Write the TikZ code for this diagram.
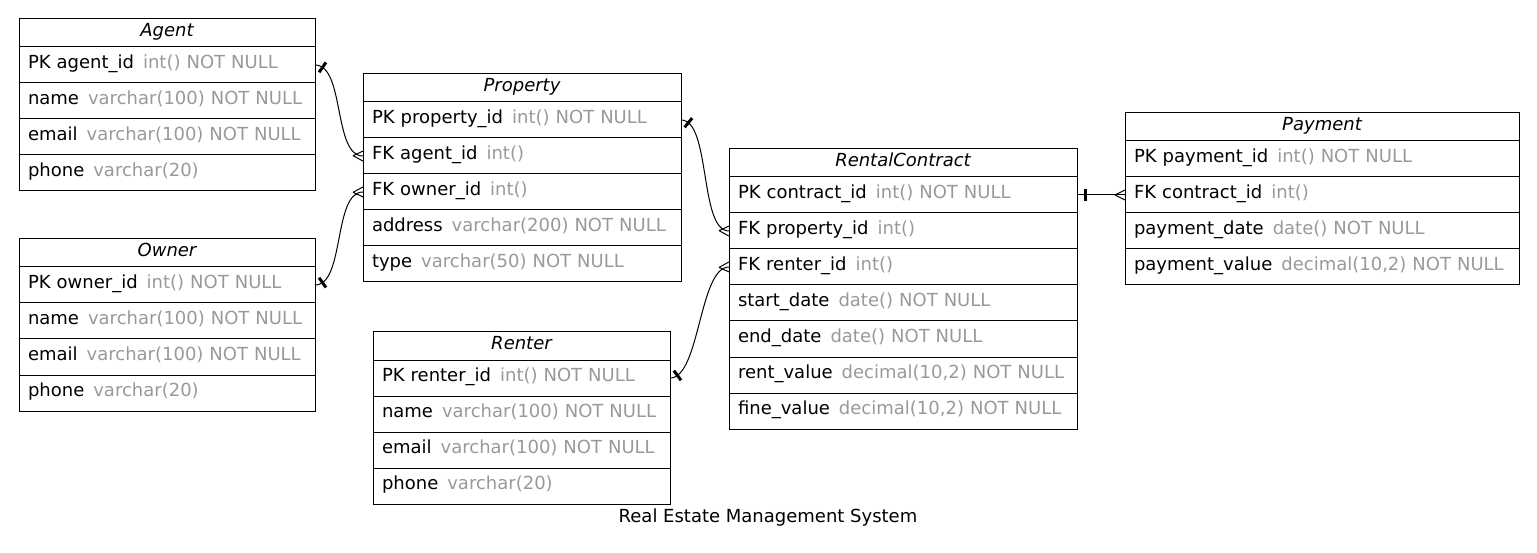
\documentclass[tikz,border=0pt]{standalone}
\usepackage{fontspec}
\setmainfont{DejaVu Sans}
\usetikzlibrary{positioning,decorations.markings}
\definecolor{attrgray}{HTML}{999999}
\newcommand{\coltype}[1]{\hspace{3pt}\textcolor{attrgray}{#1}}
\tikzset{
    tbl/.style={draw, line width=1pt, outer sep=0pt, inner xsep=9pt, inner ysep=0pt,
        text height=12pt, text depth=5pt, anchor=north west},
    hdr/.style={tbl, text width=#1, minimum height=28pt, align=center,
        font=\fontsize{18}{21}\selectfont\itshape},
    fld/.style={tbl, text width=#1, minimum height=36pt, align=left,
        font=\fontsize{18}{21}\selectfont},
    rel/.style={line width=1pt, postaction={decorate},
        decoration={markings,
            mark=at position 8pt with {\draw[line width=3pt] (0,-6pt) -- (0,6pt);},
            mark=at position -0.5pt with {\draw[line width=1pt] (-9.5pt,0) -- (0.5pt,5pt) (-9.5pt,0) -- (0.5pt,-5pt);}}}
}
\begin{document}
\begin{tikzpicture}[x=1pt,y=-1pt]
                %\draw[help lines] (0,0) grid (1537,553);
                \useasboundingbox (0,0) rectangle (1537,553);
                % Agent
                \node[hdr=278pt] (agent) at (19,19) {Agent};
                \node[fld=278pt, below=0pt of agent] (agent-pk) {PK agent\_id \coltype{int() NOT NULL}};
                \node[fld=278pt, below=0pt of agent-pk] (agent-name) {name \coltype{varchar(100) NOT NULL}};
                \node[fld=278pt, below=0pt of agent-name] (agent-email) {email \coltype{varchar(100) NOT NULL}};
                \node[fld=278pt, below=0pt of agent-email] (agent-phone) {phone \coltype{varchar(20)}};
                % Owner
                \node[hdr=278pt] (owner) at (19,239) {Owner};
                \node[fld=278pt, below=0pt of owner] (owner-pk) {PK owner\_id \coltype{int() NOT NULL}};
                \node[fld=278pt, below=0pt of owner-pk] (owner-name) {name \coltype{varchar(100) NOT NULL}};
                \node[fld=278pt, below=0pt of owner-name] (owner-email) {email \coltype{varchar(100) NOT NULL}};
                \node[fld=278pt, below=0pt of owner-email] (owner-phone) {phone \coltype{varchar(20)}};
                % Property
                \node[hdr=300pt] (prop) at (363,74) {Property};
                \node[fld=300pt, below=0pt of prop] (prop-pk) {PK property\_id \coltype{int() NOT NULL}};
                \node[fld=300pt, below=0pt of prop-pk] (prop-agent) {FK agent\_id \coltype{int()}};
                \node[fld=300pt, below=0pt of prop-agent] (prop-owner) {FK owner\_id \coltype{int()}};
                \node[fld=300pt, below=0pt of prop-owner] (prop-address) {address \coltype{varchar(200) NOT NULL}};
                \node[fld=300pt, below=0pt of prop-address] (prop-type) {type \coltype{varchar(50) NOT NULL}};
                % Renter
                \node[hdr=279pt] (renter) at (373,332) {Renter};
                \node[fld=279pt, below=0pt of renter] (renter-pk) {PK renter\_id \coltype{int() NOT NULL}};
                \node[fld=279pt, below=0pt of renter-pk] (renter-name) {name \coltype{varchar(100) NOT NULL}};
                \node[fld=279pt, below=0pt of renter-name] (renter-email) {email \coltype{varchar(100) NOT NULL}};
                \node[fld=279pt, below=0pt of renter-email] (renter-phone) {phone \coltype{varchar(20)}};
                % RentalContract
                \node[hdr=330pt] (contract) at (729,149) {RentalContract};
                \node[fld=330pt, below=0pt of contract] (contract-pk) {PK contract\_id \coltype{int() NOT NULL}};
                \node[fld=330pt, below=0pt of contract-pk] (contract-prop) {FK property\_id \coltype{int()}};
                \node[fld=330pt, below=0pt of contract-prop] (contract-renter) {FK renter\_id \coltype{int()}};
                \node[fld=330pt, below=0pt of contract-renter] (contract-start) {start\_date \coltype{date() NOT NULL}};
                \node[fld=330pt, below=0pt of contract-start] (contract-end) {end\_date \coltype{date() NOT NULL}};
                \node[fld=330pt, below=0pt of contract-end] (contract-rent) {rent\_value \coltype{decimal(10,2) NOT NULL}};
                \node[fld=330pt, below=0pt of contract-rent] (contract-fine) {fine\_value \coltype{decimal(10,2) NOT NULL}};
                % Payment
                \node[hdr=376pt] (pay) at (1125,113) {Payment};
                \node[fld=376pt, below=0pt of pay] (pay-pk) {PK payment\_id \coltype{int() NOT NULL}};
                \node[fld=376pt, below=0pt of pay-pk] (pay-contract) {FK contract\_id \coltype{int()}};
                \node[fld=376pt, below=0pt of pay-contract] (pay-date) {payment\_date \coltype{date() NOT NULL}};
                \node[fld=376pt, below=0pt of pay-date] (pay-value) {payment\_value \coltype{decimal(10,2) NOT NULL}};
                % relations
                \draw[rel] (agent-pk.east) .. controls +(30,0) and +(-30,0) .. (prop-agent.west);
                \draw[rel] (owner-pk.east) .. controls +(30,0) and +(-30,0) .. (prop-owner.west);
                \draw[rel] (prop-pk.east) .. controls +(30,0) and +(-30,0) .. (contract-prop.west);
                \draw[rel] (renter-pk.east) .. controls +(30,0) and +(-30,0) .. (contract-renter.west);
                \draw[rel] (contract-pk.east) -- (pay-contract.west);
                \node[anchor=base, font=\fontsize{18}{21}\selectfont] (title) at (768,522) {Real Estate Management System};
            \end{tikzpicture}
\end{document}
